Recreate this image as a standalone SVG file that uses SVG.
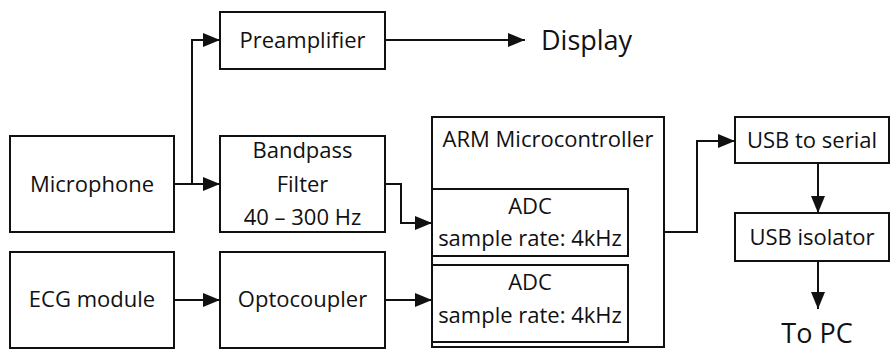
<svg xmlns="http://www.w3.org/2000/svg" width="891" height="350" viewBox="0 0 891 350">
  <style>
    .box { fill: #ffffff; stroke: #111111; stroke-width: 2; }
    .lbl { font-family: "Open Sans", "Liberation Sans", sans-serif; font-size: 22px; fill: #111111; text-anchor: middle; }
    .big { font-size: 27px; }
    .wire { fill: none; stroke: #111111; stroke-width: 2; }
  </style>
  <defs>
    <marker id="arrow" markerUnits="userSpaceOnUse" markerWidth="18" markerHeight="14" refX="17" refY="7" orient="auto">
      <path d="M0,0 L17,7 L0,14 z" fill="#111111"/>
    </marker>
  </defs>

  <rect width="891" height="350" fill="#ffffff"/>

  <!-- connectors -->
  <g id="connectors">
    <path class="wire" d="M174,184 H220" marker-end="url(#arrow)"/>
    <path class="wire" d="M192,184 V40 H220" marker-end="url(#arrow)"/>
    <path class="wire" d="M385,40 H525" marker-end="url(#arrow)"/>
    <path class="wire" d="M385,184 H401 V223 H432" marker-end="url(#arrow)"/>
    <path class="wire" d="M174,300 H220" marker-end="url(#arrow)"/>
    <path class="wire" d="M385,300 H432" marker-end="url(#arrow)"/>
    <path class="wire" d="M664,232 H697 V141 H735" marker-end="url(#arrow)"/>
    <path class="wire" d="M818,163 V213" marker-end="url(#arrow)"/>
    <path class="wire" d="M818,261 V309" marker-end="url(#arrow)"/>
  </g>

  <g id="preamplifier">
    <rect class="box" x="220" y="12" width="165" height="57"/>
    <text class="lbl" x="302.5" y="48">Preamplifier</text>
  </g>

  <g id="display">
    <text class="lbl big" x="541" y="50" style="text-anchor:start">Display</text>
  </g>

  <g id="microphone">
    <rect class="box" x="10" y="136" width="164" height="96"/>
    <text class="lbl" x="92" y="192">Microphone</text>
  </g>

  <g id="bandpass-filter">
    <rect class="box" x="220" y="136" width="165" height="96"/>
    <text class="lbl" x="302.5" y="158">Bandpass</text>
    <text class="lbl" x="302.5" y="192">Filter</text>
    <text class="lbl" x="302.5" y="225">40 – 300 Hz</text>
  </g>

  <g id="ecg-module">
    <rect class="box" x="10" y="252" width="164" height="96"/>
    <text class="lbl" x="92" y="307">ECG module</text>
  </g>

  <g id="optocoupler">
    <rect class="box" x="220" y="252" width="165" height="96"/>
    <text class="lbl" x="302.5" y="307">Optocoupler</text>
  </g>

  <g id="arm-microcontroller">
    <rect class="box" x="432" y="117" width="232" height="230"/>
    <text class="lbl" x="548" y="147">ARM Microcontroller</text>
  </g>

  <g id="adc-1">
    <rect class="box" x="432" y="189" width="196" height="67"/>
    <text class="lbl" x="530" y="214">ADC</text>
    <text class="lbl" x="530" y="246">sample rate: 4kHz</text>
  </g>

  <g id="adc-2">
    <rect class="box" x="432" y="265" width="196" height="77"/>
    <text class="lbl" x="530" y="290">ADC</text>
    <text class="lbl" x="530" y="323">sample rate: 4kHz</text>
  </g>

  <g id="usb-to-serial">
    <rect class="box" x="735" y="117" width="154" height="46"/>
    <text class="lbl" x="812" y="148">USB to serial</text>
  </g>

  <g id="usb-isolator">
    <rect class="box" x="735" y="213" width="154" height="48"/>
    <text class="lbl" x="812" y="245">USB isolator</text>
  </g>

  <g id="to-pc">
    <text class="lbl big" x="817" y="343">To PC</text>
  </g>
</svg>
